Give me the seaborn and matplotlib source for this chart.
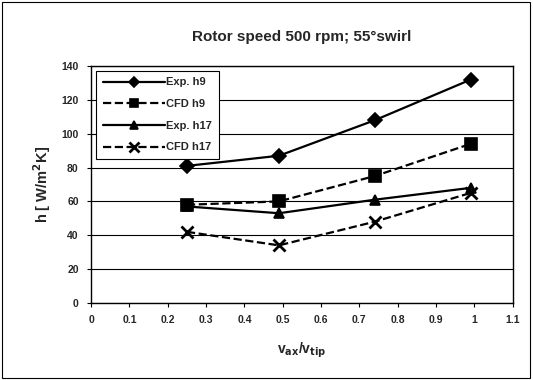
import matplotlib.pyplot as plt
import seaborn as sns

# --- data ---
v_ratio = [0.25, 0.49, 0.74, 0.99]
exp_h9 = [81, 87, 108, 132]
cfd_h9 = [58, 60, 75, 94]
exp_h17 = [57, 53, 61, 68]
cfd_h17 = [42, 34, 48, 65]
series_names = ["Exp. h9", "CFD h9", "Exp. h17", "CFD h17"]
x_ticks = [0, 0.1, 0.2, 0.3, 0.4, 0.5, 0.6, 0.7, 0.8, 0.9, 1, 1.1]
x_tick_labels = ["0", "0.1", "0.2", "0.3", "0.4", "0.5", "0.6", "0.7", "0.8", "0.9", "1", "1.1"]
y_ticks = [0, 20, 40, 60, 80, 100, 120, 140]

series_values = [exp_h9, cfd_h9, exp_h17, cfd_h17]
marker_kind = ["D", "s", "^", "x"]
marker_size = [7, 8, 7.5, 9]
line_kind = ["-", "--", "-", "--"]

sns.set_style("white")
plt.rcParams["font.family"] = ["Liberation Sans", "DejaVu Sans"]
plt.rcParams["font.weight"] = "bold"

fig = plt.figure(figsize=(5.33, 3.8), dpi=100)
ax = fig.add_axes([0.171, 0.203, 0.791, 0.623])

for name, vals, mk, ms, ls in zip(series_names, series_values, marker_kind, marker_size, line_kind):
    sns.lineplot(x=v_ratio, y=vals, ax=ax, color="black", marker=mk, linestyle=ls,
                 markersize=ms, markeredgewidth=1.2 if mk != "x" else 2,
                 markeredgecolor="black", linewidth=1.6, label=name,
                 dashes=(5, 3) if ls == "--" else (None, None))

ax.set_xlim(0, 1.1)
ax.set_ylim(0, 140)
ax.set_xticks(x_ticks)
ax.set_xticklabels(x_tick_labels, fontsize=7.5, fontweight="bold")
ax.set_yticks(y_ticks)
ax.set_yticklabels([str(t) for t in y_ticks], fontsize=7.5, fontweight="bold")
ax.tick_params(axis="both", direction="out", length=3, width=0.8, color="black", pad=6,
               bottom=True, left=True)
ax.yaxis.grid(True, color="black", linewidth=0.8)
ax.set_axisbelow(True)
for sp in ax.spines.values():
    sp.set_color("black")
    sp.set_linewidth(1.0)

ax.set_xlabel("v$_{\\mathbf{ax}}$/v$_{\\mathbf{tip}}$", fontsize=10, fontweight="bold", labelpad=11)
ax.set_ylabel("h [ W/m$^\\mathbf{2}$K]", fontsize=10.5, fontweight="bold", labelpad=6)
ax.set_title("Rotor speed 500 rpm; 55°swirl", fontsize=11, fontweight="bold", pad=18)

leg = ax.legend(loc="upper left", bbox_to_anchor=(0.01, 0.985), fontsize=8,
                frameon=True, fancybox=False, borderpad=0.6, handlelength=5.6,
                handletextpad=0.1, labelspacing=1.05, markerscale=0.75,
                borderaxespad=0.1)
leg.get_frame().set_edgecolor("black")
leg.get_frame().set_linewidth(0.8)
leg.get_frame().set_alpha(1)

# outer chart border
fig.patches.append(plt.Rectangle((0.004, 0.005), 0.99, 0.99, transform=fig.transFigure,
                                 fill=False, edgecolor="black", linewidth=0.8))

fig.savefig("out.png", dpi=100)
